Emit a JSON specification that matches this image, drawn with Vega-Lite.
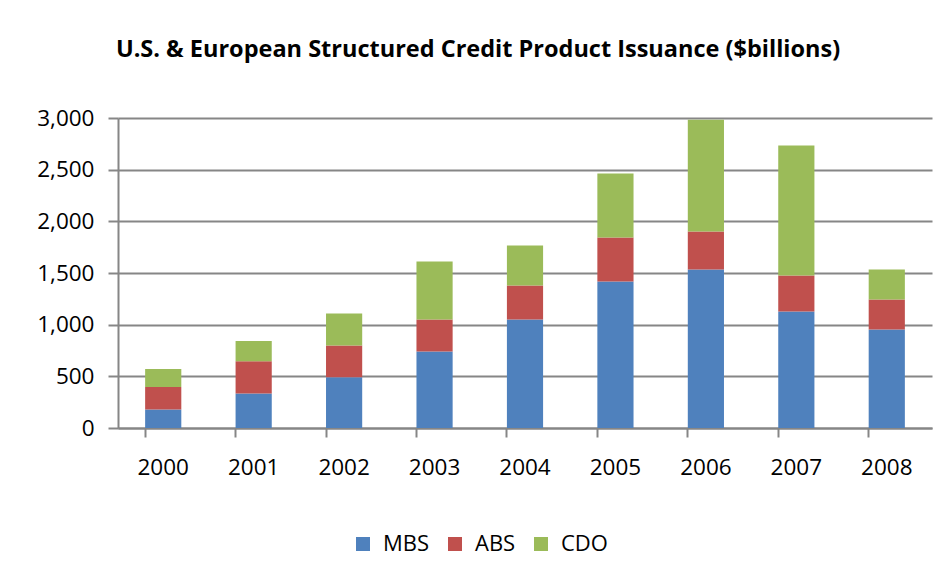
{
  "$schema": "https://vega.github.io/schema/vega-lite/v6.json",
  "width": 814,
  "height": 310,
  "autosize": {"type": "none"},
  "padding": {"left": 118, "top": 118, "right": 4, "bottom": 136},
  "background": "white",
  "title": {
    "text": "U.S. & European Structured Credit Product Issuance ($billions)",
    "font": "Open Sans",
    "fontSize": 23.5,
    "fontWeight": "bold",
    "color": "#000000",
    "anchor": "middle",
    "frame": "group",
    "dx": -47,
    "offset": 46
  },
  "data": {
    "values": [
      {"year": "2000", "type": "MBS", "value": 180},
      {"year": "2000", "type": "ABS", "value": 216},
      {"year": "2000", "type": "CDO", "value": 174},
      {"year": "2001", "type": "MBS", "value": 335},
      {"year": "2001", "type": "ABS", "value": 310},
      {"year": "2001", "type": "CDO", "value": 196},
      {"year": "2002", "type": "MBS", "value": 490},
      {"year": "2002", "type": "ABS", "value": 309},
      {"year": "2002", "type": "CDO", "value": 310},
      {"year": "2003", "type": "MBS", "value": 741},
      {"year": "2003", "type": "ABS", "value": 310},
      {"year": "2003", "type": "CDO", "value": 560},
      {"year": "2004", "type": "MBS", "value": 1051},
      {"year": "2004", "type": "ABS", "value": 328},
      {"year": "2004", "type": "CDO", "value": 387},
      {"year": "2005", "type": "MBS", "value": 1418},
      {"year": "2005", "type": "ABS", "value": 425},
      {"year": "2005", "type": "CDO", "value": 619},
      {"year": "2006", "type": "MBS", "value": 1534},
      {"year": "2006", "type": "ABS", "value": 367},
      {"year": "2006", "type": "CDO", "value": 1083},
      {"year": "2007", "type": "MBS", "value": 1128},
      {"year": "2007", "type": "ABS", "value": 348},
      {"year": "2007", "type": "CDO", "value": 1257},
      {"year": "2008", "type": "MBS", "value": 954},
      {"year": "2008", "type": "ABS", "value": 290},
      {"year": "2008", "type": "CDO", "value": 290}
    ]
  },
  "transform": [
    {"calculate": "indexof(['MBS','ABS','CDO'], datum.type)", "as": "stackOrder"}
  ],
  "mark": {"type": "bar"},
  "encoding": {
    "x": {
      "field": "year",
      "type": "nominal",
      "scale": {"paddingInner": 0.6, "paddingOuter": 0.3},
      "axis": {
        "title": null,
        "labelAngle": 0,
        "labelFont": "Open Sans",
        "labelFontSize": 22.5,
        "labelColor": "#000000",
        "labelPadding": 19,
        "bandPosition": 0,
        "tickSize": 9,
        "tickColor": "#868686",
        "tickWidth": 2,
        "domainColor": "#868686",
        "domainWidth": 2,
        "grid": false
      }
    },
    "y": {
      "field": "value",
      "type": "quantitative",
      "aggregate": "sum",
      "stack": "zero",
      "scale": {"domain": [0, 3000], "nice": false},
      "axis": {
        "title": null,
        "values": [0, 500, 1000, 1500, 2000, 2500, 3000],
        "format": ",d",
        "labelFont": "Open Sans",
        "labelFontSize": 22.5,
        "labelColor": "#000000",
        "labelPadding": 14,
        "tickSize": 10,
        "tickColor": "#868686",
        "tickWidth": 2,
        "domainColor": "#868686",
        "domainWidth": 2,
        "grid": true,
        "gridColor": "#868686",
        "gridWidth": 2
      }
    },
    "color": {
      "field": "type",
      "type": "nominal",
      "sort": ["MBS", "ABS", "CDO"],
      "scale": {"domain": ["MBS", "ABS", "CDO"], "range": ["#4F81BD", "#C0504D", "#9BBB59"]},
      "legend": {
        "title": null,
        "orient": "none",
        "legendX": 234,
        "legendY": 415,
        "direction": "horizontal",
        "symbolType": "square",
        "symbolSize": 196,
        "symbolStrokeWidth": 0,
        "labelFont": "Open Sans",
        "labelFontSize": 22,
        "labelColor": "#000000",
        "columnPadding": 14,
        "labelOffset": 9
      }
    },
    "order": {"field": "stackOrder", "type": "quantitative", "sort": "ascending"}
  },
  "config": {"view": {"stroke": null}}
}
